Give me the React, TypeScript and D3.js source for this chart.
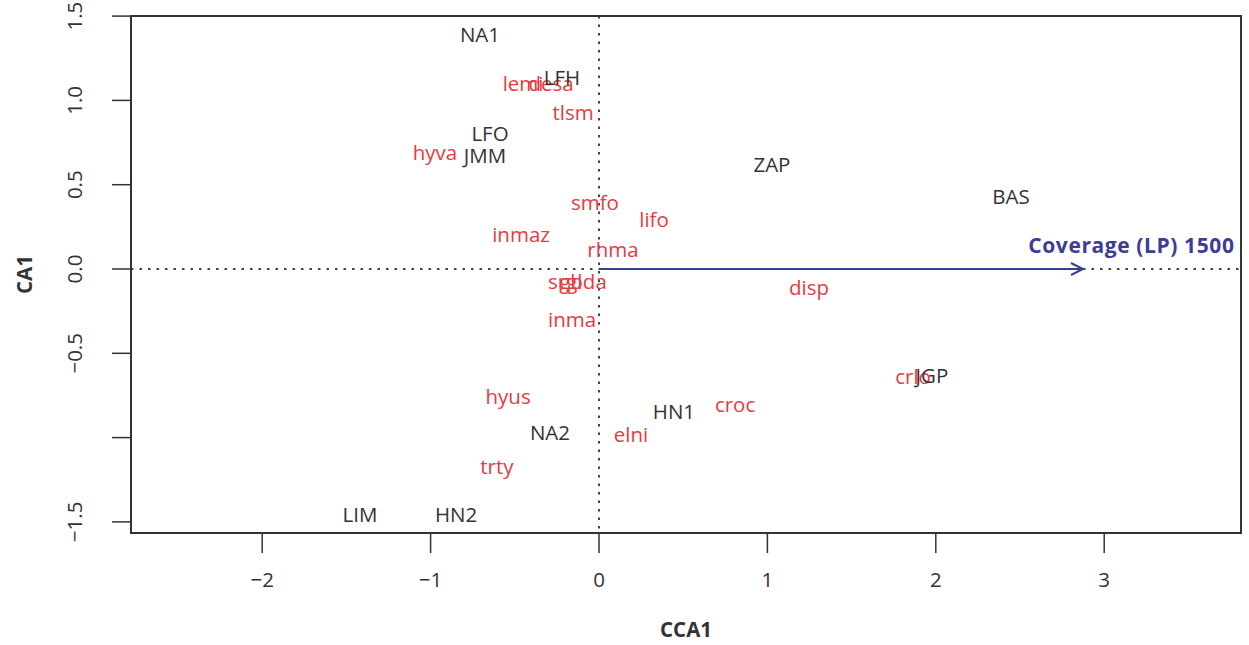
import React, { useEffect } from 'react';
import * as d3 from 'd3';

// site scores (black)
const siteNames = ['NA1', 'LFH', 'LFO', 'JMM', 'ZAP', 'BAS', 'JGP', 'HN1', 'NA2', 'LIM', 'HN2'];
const siteCCA1 = [-0.707, -0.22, -0.647, -0.677, 1.027, 2.447, 1.977, 0.445, -0.291, -1.419, -0.849];
const siteCA1 = [1.388, 1.133, 0.8, 0.67, 0.617, 0.427, -0.635, -0.848, -0.973, -1.459, -1.459];

// species scores (red)
const speciesNames = ['lemi', 'desa', 'tlsm', 'hyva', 'smfo', 'lifo', 'inmaz', 'rhma', 'srgl', 'gbda', 'disp', 'inma', 'crlo', 'hyus', 'croc', 'elni', 'trty'];
const speciesCCA1 = [-0.451, -0.285, -0.154, -0.974, -0.024, 0.327, -0.463, 0.083, -0.2, -0.095, 1.247, -0.16, 1.865, -0.54, 0.808, 0.19, -0.606];
const speciesCA1 = [1.097, 1.097, 0.925, 0.688, 0.391, 0.291, 0.202, 0.113, -0.077, -0.077, -0.113, -0.302, -0.64, -0.759, -0.807, -0.985, -1.174];

// biplot arrow
const arrowLabel = 'Coverage (LP) 1500';
const arrowCCA1 = 2.874;
const arrowCA1 = 0;

const xTicks = [-2, -1, 0, 1, 2, 3];
const yTicks = [-1.5, -1.0, -0.5, 0.0, 0.5, 1.0, 1.5];
const yTickLabels = ['\u22121.5', '', '\u22120.5', '0.0', '0.5', '1.0', '1.5'];

const W = 1249;
const H = 645;
const box = { left: 131, right: 1241, top: 16, bottom: 533 };
const font = '"Open Sans", Lato, sans-serif';
const fs = 20.5;
const siteColor = '#333333';
const spColor = '#e83a3f';
const arrowColor = '#3d3d96';

const App = () => {
    useEffect(() => {
        document.body.style.margin = '0';
    }, []);

    const x = d3.scaleLinear().domain([0, 1]).range([599, 767.4]);
    const y = d3.scaleLinear().domain([0, 1]).range([269, 100.4]);

    const x0 = x(0);
    const y0 = y(0);
    const ax = x(arrowCCA1);
    const ay = y(arrowCA1);

    return (
        <svg width={W} height={H} style={{ display: 'block', background: '#fff' }} fontFamily={font}>
            {/* zero lines */}
            <line x1={x0} x2={x0} y1={box.top} y2={box.bottom} stroke="#444" strokeWidth={2} strokeDasharray="2.5,6" />
            <line x1={box.left} x2={box.right} y1={y0} y2={y0} stroke="#444" strokeWidth={2} strokeDasharray="2.5,6" />

            {/* arrow */}
            <line x1={x0} y1={y0} x2={ax} y2={ay} stroke={arrowColor} strokeWidth={2} />
            <polyline points={`${ax - 12},${ay - 6} ${ax},${ay} ${ax - 12},${ay + 6}`} fill="none" stroke={arrowColor} strokeWidth={2} />
            <text x={x(arrowCCA1 * 1.1)} y={ay - 23} dy="0.35em" textAnchor="middle" fill={arrowColor} fontSize={21} fontWeight="bold" letterSpacing={0.6}>{arrowLabel}</text>

            {/* species */}
            {speciesNames.map((s, i) => (
                <text key={s} x={x(speciesCCA1[i])} y={y(speciesCA1[i])} dy="0.35em" textAnchor="middle" fill={spColor} fontSize={fs}>{s}</text>
            ))}

            {/* sites */}
            {siteNames.map((s, i) => (
                <text key={s} x={x(siteCCA1[i])} y={y(siteCA1[i])} dy="0.35em" textAnchor="middle" fill={siteColor} fontSize={fs}>{s}</text>
            ))}

            {/* box */}
            <rect x={box.left} y={box.top} width={box.right - box.left} height={box.bottom - box.top} fill="none" stroke="#333" strokeWidth={2} />

            {/* x axis */}
            {xTicks.map(t => (
                <g key={t}>
                    <line x1={x(t)} x2={x(t)} y1={box.bottom} y2={box.bottom + 20} stroke="#333" strokeWidth={1.5} />
                    <text x={x(t)} y={580} dy="0.35em" textAnchor="middle" fill="#333" fontSize={fs}>{t < 0 ? '\u2212' + Math.abs(t) : t}</text>
                </g>
            ))}
            <text x={(box.left + box.right) / 2} y={630} dy="0.35em" textAnchor="middle" fill="#333" fontSize={fs} fontWeight="bold">CCA1</text>

            {/* y axis */}
            {yTicks.map((t, i) => (
                <g key={t}>
                    <line x1={box.left - 19} x2={box.left} y1={y(t)} y2={y(t)} stroke="#333" strokeWidth={1.5} />
                    <text transform={`translate(75,${y(t)}) rotate(-90)`} dy="0.35em" textAnchor="middle" fill="#333" fontSize={fs}>{yTickLabels[i]}</text>
                </g>
            ))}
            <text transform={`translate(25,${(box.top + box.bottom) / 2}) rotate(-90)`} dy="0.35em" textAnchor="middle" fill="#333" fontSize={fs} fontWeight="bold">CA1</text>
        </svg>
    );
};

export default App;
